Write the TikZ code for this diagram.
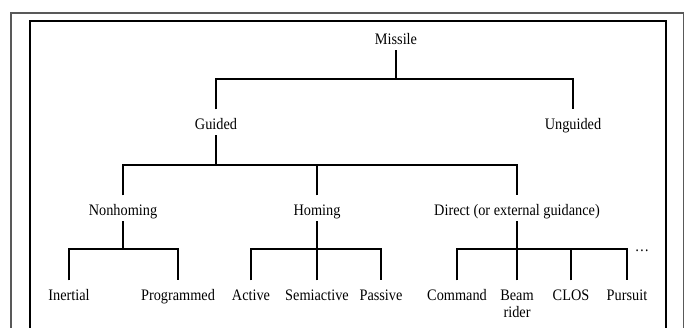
\documentclass[tikz,border=0pt]{standalone}
\usepackage{graphicx}
\usepackage{fontspec}
\setmainfont{Liberation Serif}
\newcommand{\tx}[1]{\scalebox{1}[1.12]{#1}}
\begin{document}
\begin{tikzpicture}[x=1pt,y=-1pt,
  lbl/.style={font=\fontsize{14.3}{17}\selectfont, anchor=base, inner xsep=0pt, inner ysep=6pt, text height=10.5pt, text depth=0pt},
  lbltwo/.style={font=\fontsize{14.3}{17}\selectfont, anchor=base, inner xsep=0pt, inner ysep=6pt, align=center},
  thinln/.style={line width=2pt},
  thickln/.style={line width=2.8pt},
  gap/.style={shorten <=3pt, shorten >=3pt}]
\useasboundingbox (0,0) rectangle (684,327);
% frames
\draw[black!65, line width=1.2pt] (11,13) rectangle (683.6,340);
\draw[black, line width=1.8pt] (30,21) rectangle (666,340);
% nodes
\node[lbl] (missile) at (396,44) {\tx{Missile}};
\node[lbl] (guided) at (216,129) {\tx{Guided}};
\node[lbl] (unguided) at (573,129) {\tx{Unguided}};
\node[lbl] (nonhoming) at (123,215) {\tx{Nonhoming}};
\node[lbl] (homing) at (317,215) {\tx{Homing}};
\node[lbl] (direct) at (517,215) {\tx{Direct (or external guidance)}};
\node[lbl] (inertial) at (69,300) {\tx{Inertial}};
\node[lbl] (programmed) at (178,300) {\tx{Programmed}};
\node[lbl] (active) at (251,300) {\tx{Active}};
\node[lbl] (semiactive) at (317,300) {\tx{Semiactive}};
\node[lbl] (passive) at (381,300) {\tx{Passive}};
\node[lbl] (command) at (457,300) {\tx{Command}};
\node[lbltwo] (beam) at (517,317) {\tx{Beam}\\\tx{rider}};
\node[lbl] (clos) at (571,300) {\tx{CLOS}};
\node[lbl] (pursuit) at (627,300) {\tx{Pursuit}};
\node[lbl] (more) at (642,251) {\tx{\dots}};
% junctions
\coordinate (j1) at (396,79);
\coordinate (j2) at (216,165);
\coordinate (j3a) at (123,249);
\coordinate (j3b) at (317,249);
\coordinate (j3c) at (517,249);
% level 1
\draw[thinln] (missile.south) -- (j1);
\draw[thinln, gap] (guided.north) -- (guided.north |- j1) -- (unguided.north |- j1) -- (unguided.north);
% level 2
\draw[thinln] (guided.south) -- (j2);
\draw[thinln, gap] (nonhoming.north) -- (nonhoming.north |- j2) -- (direct.north |- j2) -- (direct.north);
\draw[thinln, shorten <=3pt] (homing.north) -- (homing.north |- j2);
% level 3
\draw[thinln] (nonhoming.south) -- (j3a);
\draw[thinln] (homing.south) -- (j3b);
\draw[thinln] (direct.south) -- (j3c);
\draw[thickln, gap] (inertial.north) -- (inertial.north |- j3a) -- (programmed.north |- j3a) -- (programmed.north);
\draw[thickln, gap] (active.north) -- (active.north |- j3b) -- (passive.north |- j3b) -- (passive.north);
\draw[thickln, shorten <=3pt] (semiactive.north) -- (semiactive.north |- j3b);
\draw[thickln, gap] (command.north) -- (command.north |- j3c) -- (pursuit.north |- j3c) -- (pursuit.north);
\draw[thickln, shorten <=3pt] (beam.north) -- (beam.north |- j3c);
\draw[thickln, shorten <=3pt] (clos.north) -- (clos.north |- j3c);
\end{tikzpicture}
\end{document}
